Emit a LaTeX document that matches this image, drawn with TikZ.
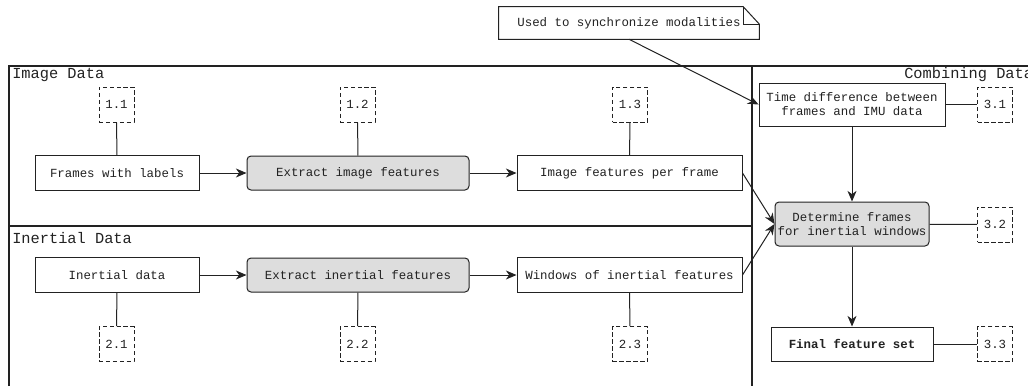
\documentclass[tikz,border=0pt]{standalone}
\usepackage{fontspec}
\setmonofont{Liberation Mono}
\usetikzlibrary{arrows.meta}
\definecolor{ln}{HTML}{222222}
\definecolor{boxgray}{HTML}{DDDDDD}
\tikzset{
  boxtxt/.style={font=\ttfamily\fontsize{9.3}{10.5}\selectfont, text=ln},
  plainbox/.style={boxtxt, draw=ln, line width=0.75pt, fill=white, inner sep=1pt, align=center},
  procbox/.style={plainbox, fill=boxgray, rounded corners=3pt},
  refbox/.style={boxtxt, draw=ln, line width=0.75pt, dash pattern=on 3.2pt off 2pt,
     minimum width=26.25pt, minimum height=26.25pt, inner sep=0pt},
  lanetitle/.style={font=\ttfamily\fontsize{11.5}{13}\selectfont, text=ln, inner sep=0pt},
  arr/.style={-{Stealth[length=8pt,width=6.8pt,inset=2.5pt]}, line width=0.75pt, draw=ln},
  link/.style={line width=0.75pt, draw=ln},
  frameline/.style={line width=1.1pt, draw=ln}
}
\begin{document}
\begin{tikzpicture}[x=0.75pt,y=-0.75pt]
\useasboundingbox (0,0) rectangle (1028,386);
% lanes
\draw[frameline] (9,386) -- (9,66) -- (1028,66);
\draw[frameline] (9,226) -- (752,226);
\draw[frameline] (752,66) -- (752,386);
\node[lanetitle, anchor=base west] (tImg) at (12,78) {Image Data};
\node[lanetitle, anchor=base west] (tIne) at (12,243) {Inertial Data};
\node[lanetitle, anchor=base west] (tComb) at (904,78) {Combining Data};
% image row
\node[plainbox, minimum width=123pt, minimum height=26.25pt] (frames) at (117,173) {Frames with labels};
\node[procbox, minimum width=166.5pt, minimum height=25.5pt] (extimg) at (358,173) {Extract image features};
\node[plainbox, minimum width=168.75pt, minimum height=26.25pt] (imgfeat) at (629.5,173) {Image features per frame};
\node[refbox] (r11) at (116.5,104.5) {1.1};
\node[refbox] (r12) at (357.5,104.5) {1.2};
\node[refbox] (r13) at (630,104.5) {1.3};
% inertial row
\node[plainbox, minimum width=123pt, minimum height=26.25pt] (inert) at (117,275) {Inertial data};
\node[procbox, minimum width=166.5pt, minimum height=25.5pt] (extin) at (358,275) {Extract inertial features};
\node[plainbox, minimum width=168.75pt, minimum height=26.25pt] (windows) at (629.5,275) {Windows of inertial features};
\node[refbox] (r21) at (116.5,344) {2.1};
\node[refbox] (r22) at (357.5,344) {2.2};
\node[refbox] (r23) at (630,344) {2.3};
% combining
\node[plainbox, minimum width=139.5pt, minimum height=32.25pt] (timediff) at (852,104.5) {Time difference between\\frames and IMU data};
\node[procbox, minimum width=115.5pt, minimum height=33pt] (determine) at (852,224) {Determine frames\\for inertial windows};
\node[plainbox, minimum width=121.5pt, minimum height=25.5pt, font=\ttfamily\bfseries\fontsize{9.3}{10.5}\selectfont] (final) at (852,344) {Final feature set};
\node[refbox] (r31) at (995,104.5) {3.1};
\node[refbox] (r32) at (995,224.5) {3.2};
\node[refbox] (r33) at (995,344) {3.3};
% note
\node[boxtxt, minimum width=195pt, minimum height=24pt, inner sep=0pt] (note) at (629,23) {Used to synchronize modalities};
\draw[link, fill=none] (note.north west) -- ([xshift=-12pt]note.north east) -- ([yshift=-13pt]note.north east) -- (note.south east) -- (note.south west) -- cycle;
\draw[link] ([xshift=-12pt]note.north east) |- ([yshift=-13pt]note.north east);
% connectors
\draw[arr] (frames) -- (extimg);
\draw[arr] (extimg) -- (imgfeat);
\draw[arr] (inert) -- (extin);
\draw[arr] (extin) -- (windows);
\draw[link] (r11) -- (frames);
\draw[link] (r12) -- (extimg);
\draw[link] (r13) -- (imgfeat);
\draw[link] (inert) -- (r21);
\draw[link] (extin) -- (r22);
\draw[link] (windows) -- (r23);
\draw[arr] (note.south) -- (timediff.west);
\draw[arr] (imgfeat.east) -- (determine.west);
\draw[arr] (windows.east) -- (determine.west);
\draw[arr] (timediff) -- (determine);
\draw[arr] (determine) -- (final);
\draw[link] (timediff) -- (r31);
\draw[link] (determine) -- (r32);
\draw[link] (final) -- (r33);
\end{tikzpicture}
\end{document}
